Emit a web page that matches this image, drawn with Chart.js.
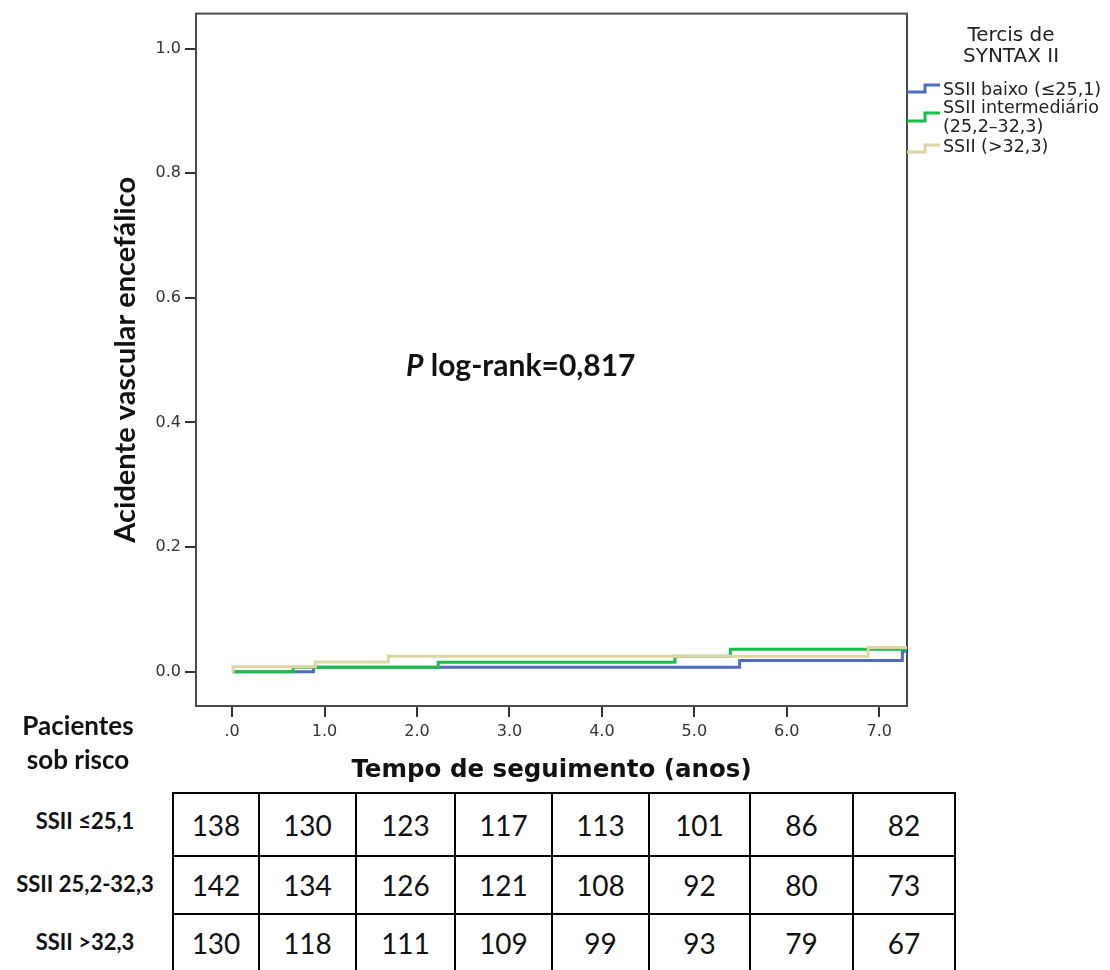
<!DOCTYPE html>
<html lang="pt">
  <head>
    <meta charset="UTF-8" />
    <title>Acidente vascular encefálico - SYNTAX II</title>
    <script src="https://cdn.jsdelivr.net/npm/chart.js"></script>
    <style>
      body { margin: 0; background: #fff; width: 1110px; height: 970px; overflow: hidden; position: relative; font-family: "Lato", sans-serif; color: #111; }
      #kmChart { position: absolute; left: 0; top: 0; }
      .note { position: absolute; left: 406px; top: 346px; font-weight: 700; font-size: 30px; }
      .risk-head { position: absolute; left: 0; top: 708px; width: 156px; text-align: center; font-weight: 700; font-size: 26px; line-height: 34px; }
      .row-label { position: absolute; width: 170px; text-align: center; font-weight: 700; font-size: 22px; }
      #risk-table { position: absolute; left: 172px; top: 792px; border-collapse: collapse; table-layout: fixed; width: 783px; }
      #risk-table td { border: 2px solid #000; text-align: center; font-size: 28px; padding: 0; }
    </style>
  </head>
  <body>
    <canvas id="kmChart" width="1110" height="790"></canvas>

    <div class="note"><i>P</i> log-rank=0,817</div>
    <div class="risk-head">Pacientes<br />sob risco</div>
    <div id="row-labels"></div>
    <table id="risk-table"><colgroup id="cols"></colgroup></table>

    <script>
      // tick labels
      const xTicks = [0, 1, 2, 3, 4, 5, 6, 7];
      const xTickLabels = [".0", "1.0", "2.0", "3.0", "4.0", "5.0", "6.0", "7.0"];
      const yTicks = [0, 0.2, 0.4, 0.6, 0.8, 1.0];
      const yTickLabels = ["0.0", "0.2", "0.4", "0.6", "0.8", "1.0"];

      // cumulative incidence curves
      const lowTimes = [0, 0.88, 5.49, 7.25, 7.3];
      const lowValues = [0, 0.007, 0.018, 0.033, 0.033];
      const midTimes = [0, 0.66, 2.23, 4.79, 5.39, 7.3];
      const midValues = [0, 0.007, 0.015, 0.025, 0.036, 0.036];
      const highTimes = [0, 0.01, 0.9, 1.69, 6.88, 7.3];
      const highValues = [0, 0.008, 0.0155, 0.025, 0.039, 0.039];

      const seriesNames = ["SSII baixo (≤25,1)", "SSII intermediário\n(25,2–32,3)", "SSII (>32,3)"];
      const seriesColors = ["#4f6cc4", "#17c046", "#ddd6a4"];

      // patients at risk
      const riskRowLabels = ["SSII ≤25,1", "SSII 25,2-32,3", "SSII >32,3"];
      const riskLow = [138, 130, 123, 117, 113, 101, 86, 82];
      const riskMid = [142, 134, 126, 121, 108, 92, 80, 73];
      const riskHigh = [130, 118, 111, 109, 99, 93, 79, 67];

      const toPoints = (t, v) => t.map((x, i) => ({ x: x, y: v[i] }));

      const framePlugin = {
        id: "frame",
        beforeDatasetsDraw(chart) {
          const { ctx, chartArea: a } = chart;
          ctx.save();
          ctx.strokeStyle = "#4a4a4a";
          ctx.lineWidth = 2;
          ctx.strokeRect(a.left, a.top, a.right - a.left, a.bottom - a.top);
          ctx.restore();
        },
      };

      const legendPlugin = {
        id: "stepLegend",
        afterDraw(chart) {
          const ctx = chart.ctx;
          const x0 = chart.chartArea.right;
          ctx.save();
          ctx.fillStyle = "#222";
          ctx.textAlign = "center";
          ctx.textBaseline = "middle";
          ctx.font = "20px 'DejaVu Sans'";
          ctx.fillText("Tercis de", 1011, 36);
          ctx.fillText("SYNTAX II", 1011, 57);

          const items = [
            { low: 92, high: 85, text: [90], },
            { low: 121, high: 113, text: [108, 127] },
            { low: 152, high: 145, text: [147] },
          ];
          ctx.font = "17.5px 'DejaVu Sans'";
          ctx.textAlign = "left";
          items.forEach((it, i) => {
            ctx.strokeStyle = seriesColors[i];
            ctx.lineWidth = 3;
            ctx.beginPath();
            ctx.moveTo(x0, it.low);
            ctx.lineTo(925, it.low);
            ctx.lineTo(925, it.high);
            ctx.lineTo(940, it.high);
            ctx.stroke();
            seriesNames[i].split("\n").forEach((line, j) => {
              ctx.fillText(line, 943, it.text[j]);
            });
          });
          ctx.restore();
        },
      };

      const ctx = document.getElementById("kmChart").getContext("2d");
      new Chart(ctx, {
        type: "line",
        data: {
          datasets: [
            { label: seriesNames[0], data: toPoints(lowTimes, lowValues), borderColor: seriesColors[0], order: 2 },
            { label: seriesNames[1], data: toPoints(midTimes, midValues), borderColor: seriesColors[1], order: 1 },
            { label: seriesNames[2], data: toPoints(highTimes, highValues), borderColor: seriesColors[2], order: 0 },
          ],
        },
        options: {
          responsive: false,
          animation: false,
          devicePixelRatio: 1,
          layout: { padding: { top: 13, right: 203, left: 0, bottom: 0 } },
          elements: {
            line: { stepped: true, borderWidth: 3, fill: false, tension: 0 },
            point: { radius: 0 },
          },
          plugins: { legend: { display: false }, tooltip: { enabled: false } },
          scales: {
            x: {
              type: "linear",
              min: -0.39,
              max: 7.3,
              afterBuildTicks: (s) => { s.ticks = xTicks.map((v) => ({ value: v })); },
              afterFit: (s) => { s.height = 84; },
              ticks: {
                color: "#333",
                font: { family: "DejaVu Sans", size: 16 },
                padding: 5,
                maxRotation: 0,
                callback: (v) => xTickLabels[xTicks.indexOf(v)],
              },
              grid: { drawOnChartArea: false, tickLength: 11, color: "#333", lineWidth: 2 },
              border: { display: false },
              title: {
                display: true,
                text: "Tempo de seguimento (anos)",
                color: "#111",
                font: { family: "DejaVu Sans", size: 24.5, weight: "bold" },
                padding: { top: 0, bottom: 5 },
              },
            },
            y: {
              type: "linear",
              min: -0.055,
              max: 1.056,
              afterBuildTicks: (s) => { s.ticks = yTicks.map((v) => ({ value: v })); },
              afterFit: (s) => { s.width = 196; },
              ticks: {
                color: "#333",
                font: { family: "DejaVu Sans", size: 16 },
                padding: 4,
                callback: (v) => yTickLabels[yTicks.findIndex((t) => Math.abs(t - v) < 1e-9)],
              },
              grid: { drawOnChartArea: false, tickLength: 11, color: "#333", lineWidth: 2 },
              border: { display: false },
              title: {
                display: true,
                text: "Acidente vascular encefálico",
                color: "#111",
                font: { family: "Lato", size: 29, weight: "bold" },
                padding: { top: 108, bottom: 0 },
              },
            },
          },
        },
        plugins: [framePlugin, legendPlugin],
      });

      // at-risk table
      const colWidths = [86, 97, 99, 97, 97, 101, 103, 102];
      const rowHeights = [63, 58, 58];
      const rowCenters = [823, 886, 944];
      const cols = document.getElementById("cols");
      colWidths.forEach((w) => {
        const col = document.createElement("col");
        col.style.width = w + "px";
        cols.appendChild(col);
      });
      const table = document.getElementById("risk-table");
      [riskLow, riskMid, riskHigh].forEach((row, r) => {
        const tr = document.createElement("tr");
        tr.style.height = rowHeights[r] + "px";
        row.forEach((n) => {
          const td = document.createElement("td");
          td.textContent = n;
          tr.appendChild(td);
        });
        table.appendChild(tr);
      });
      const labels = document.getElementById("row-labels");
      riskRowLabels.forEach((txt, r) => {
        const d = document.createElement("div");
        d.className = "row-label";
        d.style.left = "0px";
        d.style.top = rowCenters[r] - 16 + "px";
        d.textContent = txt;
        labels.appendChild(d);
      });
    </script>
  </body>
</html>
